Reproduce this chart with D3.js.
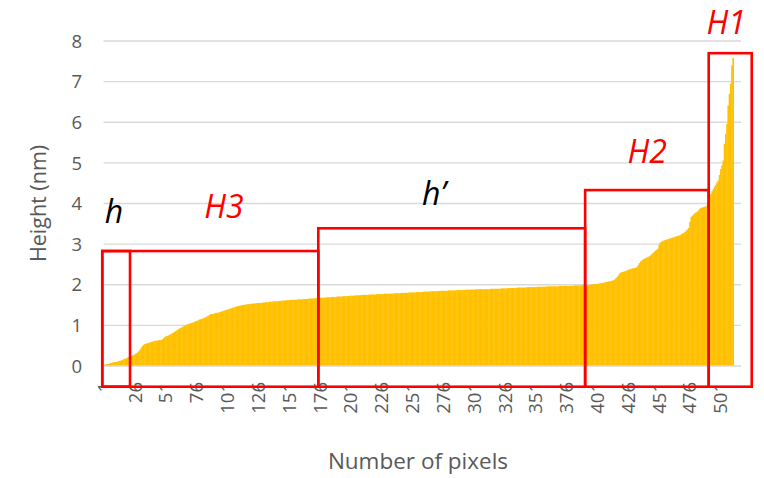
<!DOCTYPE html>
<html>
<head>
<meta charset="utf-8">
<script src="https://cdn.jsdelivr.net/npm/d3@7/dist/d3.min.js"></script>
<style>
  body { margin: 0; background: #fff; }
  text { font-family: "Open Sans", sans-serif; }
</style>
</head>
<body>
<svg width="764" height="478"></svg>
<script>
// sorted heights (nm), one per pixel
var heights = [
  0.02,0.04,0.05,0.05,0.06,0.07,0.08,0.09,0.09,0.10,
  0.10,0.11,0.12,0.13,0.14,0.15,0.17,0.18,0.19,0.21,
  0.22,0.23,0.25,0.26,0.27,0.29,0.31,0.33,0.36,0.40,
  0.45,0.49,0.52,0.54,0.55,0.56,0.57,0.58,0.59,0.60,
  0.61,0.62,0.62,0.63,0.63,0.64,0.64,0.65,0.68,0.71,
  0.73,0.74,0.75,0.77,0.78,0.80,0.82,0.84,0.86,0.88,
  0.90,0.92,0.94,0.95,0.97,0.99,1.00,1.02,1.03,1.04,
  1.05,1.06,1.07,1.08,1.10,1.11,1.12,1.14,1.15,1.16,
  1.17,1.18,1.20,1.21,1.23,1.25,1.27,1.28,1.28,1.29,
  1.30,1.31,1.31,1.32,1.33,1.34,1.35,1.36,1.37,1.38,
  1.39,1.40,1.41,1.42,1.43,1.44,1.45,1.46,1.47,1.48,
  1.48,1.49,1.50,1.50,1.51,1.51,1.52,1.52,1.53,1.53,
  1.53,1.54,1.54,1.54,1.55,1.55,1.55,1.55,1.56,1.56,
  1.56,1.57,1.57,1.57,1.58,1.58,1.58,1.59,1.59,1.59,
  1.59,1.60,1.60,1.60,1.61,1.61,1.61,1.61,1.62,1.62,
  1.62,1.62,1.63,1.63,1.63,1.63,1.63,1.64,1.64,1.64,
  1.64,1.64,1.65,1.65,1.65,1.65,1.66,1.66,1.66,1.66,
  1.66,1.67,1.67,1.67,1.67,1.68,1.68,1.68,1.68,1.68,
  1.69,1.69,1.69,1.69,1.70,1.70,1.70,1.70,1.70,1.71,
  1.71,1.71,1.71,1.71,1.72,1.72,1.72,1.72,1.72,1.73,
  1.73,1.73,1.73,1.73,1.74,1.74,1.74,1.74,1.74,1.75,
  1.75,1.75,1.75,1.75,1.75,1.76,1.76,1.76,1.76,1.76,
  1.76,1.77,1.77,1.77,1.77,1.77,1.77,1.78,1.78,1.78,
  1.78,1.78,1.78,1.78,1.78,1.79,1.79,1.79,1.79,1.79,
  1.79,1.80,1.80,1.80,1.80,1.80,1.80,1.81,1.81,1.81,
  1.81,1.81,1.81,1.82,1.82,1.82,1.82,1.82,1.82,1.83,
  1.83,1.83,1.83,1.83,1.83,1.84,1.84,1.84,1.84,1.84,
  1.84,1.84,1.85,1.85,1.85,1.85,1.85,1.85,1.85,1.86,
  1.86,1.86,1.86,1.86,1.86,1.86,1.87,1.87,1.87,1.87,
  1.87,1.87,1.87,1.87,1.88,1.88,1.88,1.88,1.88,1.88,
  1.88,1.88,1.89,1.89,1.89,1.89,1.89,1.89,1.89,1.89,
  1.89,1.89,1.89,1.90,1.90,1.90,1.90,1.90,1.90,1.90,
  1.90,1.90,1.91,1.91,1.91,1.91,1.91,1.91,1.92,1.92,
  1.92,1.92,1.92,1.92,1.92,1.93,1.93,1.93,1.93,1.93,
  1.93,1.93,1.93,1.94,1.94,1.94,1.94,1.94,1.94,1.94,
  1.94,1.95,1.95,1.95,1.95,1.95,1.95,1.95,1.95,1.96,
  1.96,1.96,1.96,1.96,1.96,1.96,1.96,1.96,1.96,1.97,
  1.97,1.97,1.97,1.97,1.97,1.97,1.97,1.97,1.97,1.97,
  1.97,1.98,1.98,1.98,1.98,1.98,1.98,1.98,1.99,1.99,
  1.99,1.99,1.99,2.00,2.00,2.00,2.01,2.01,2.02,2.02,
  2.02,2.03,2.03,2.04,2.04,2.05,2.06,2.07,2.07,2.08,
  2.08,2.09,2.10,2.11,2.13,2.16,2.19,2.23,2.28,2.30,
  2.31,2.32,2.33,2.34,2.35,2.37,2.38,2.39,2.40,2.41,
  2.41,2.42,2.43,2.48,2.53,2.57,2.60,2.62,2.64,2.65,
  2.67,2.68,2.70,2.72,2.75,2.78,2.81,2.84,2.86,2.89,
  2.98,3.04,3.06,3.08,3.09,3.10,3.11,3.12,3.13,3.14,
  3.15,3.16,3.17,3.18,3.19,3.20,3.21,3.22,3.24,3.26,
  3.27,3.30,3.33,3.36,3.40,3.55,3.67,3.70,3.73,3.76,
  3.78,3.80,3.83,3.87,3.89,3.90,3.91,3.92,3.93,3.96,
  4.05,4.14,4.23,4.30,4.36,4.41,4.46,4.52,4.57,4.70,
  4.85,4.94,5.06,5.47,5.71,5.96,6.41,6.70,6.95,7.40,7.58
];

var slotCount = 517;   // category slots on the x axis
var xTickLabels = ["1","26","51","76","101","126","151","176","201","226","251",
                   "276","301","326","351","376","401","426","451","476","501"];
var yTicks = [0, 1, 2, 3, 4, 5, 6, 7, 8];

// annotated ranges: slot edges (0 = left of pixel 1) and box top (nm)
var regionNames = ["h", "H3", "h\u2019", "H2", "H1"];
var regionFrom  = [-1, -1, 174.2, 390.6, 490.8];
var regionTo    = [21.5, 174.2, 390.6, 490.8, 525.7];
var regionTop   = [2.83, 2.83, 3.39, 4.33, 7.70];
var regionBottom = -0.51;
// label anchors (slot position, baseline height in nm)
var labelAt  = [8.5, 97.7, 268, 441, 505];
var labelY   = [3.52, 3.64, 3.96, 5.0, 8.17];
var labelRed = [false, true, false, true, true];

var svg = d3.select("svg");
var plotL = 103.5, plotR = 741, plotT = 41, plotB = 366;

var x = d3.scaleBand()
    .domain(d3.range(1, slotCount + 1))
    .range([plotL, plotR])
    .padding(0);
var xs = d3.scaleLinear().domain([0, slotCount]).range([plotL, plotR]);
var y = d3.scaleLinear().domain([0, 8]).range([plotB, plotT]);

var grey = "#595959";

// gridlines
svg.append("g")
  .selectAll("line")
  .data(yTicks.filter(function(d) { return d > 0; }))
  .enter().append("line")
    .attr("x1", plotL).attr("x2", plotR)
    .attr("y1", function(d) { return y(d); })
    .attr("y2", function(d) { return y(d); })
    .attr("stroke", "#d9d9d9")
    .attr("stroke-width", 1.3);

// bars
svg.append("g")
  .selectAll("rect")
  .data(heights)
  .enter().append("rect")
    .attr("x", function(d, i) { return x(i + 1); })
    .attr("width", x.bandwidth() + 0.4)
    .attr("y", function(d) { return y(d); })
    .attr("height", function(d) { return y(0) - y(d); })
    .attr("fill", "#ffc000");

// category axis line
svg.append("line")
    .attr("x1", plotL).attr("x2", plotR)
    .attr("y1", y(0)).attr("y2", y(0))
    .attr("stroke", "#d9d9d9")
    .attr("stroke-width", 1.3);

// y tick labels
svg.append("g")
  .selectAll("text")
  .data(yTicks)
  .enter().append("text")
    .attr("x", 82)
    .attr("y", function(d) { return y(d); })
    .attr("dy", "0.36em")
    .attr("text-anchor", "end")
    .attr("fill", grey)
    .style("font-size", "18.5px")
    .text(function(d) { return d; });

// x tick labels
svg.append("g")
  .selectAll("text")
  .data(xTickLabels)
  .enter().append("text")
    .attr("transform", function(d) {
      return "translate(" + (x(+d) + x.bandwidth() / 2) + ",382) rotate(-90)";
    })
    .attr("dy", "0.36em")
    .attr("text-anchor", "end")
    .attr("fill", grey)
    .style("font-size", "18.5px")
    .text(function(d) { return d; });

// axis titles
svg.append("text")
    .attr("transform", "translate(38," + (plotT + plotB) / 2 + ") rotate(-90)")
    .attr("dy", "0.36em")
    .attr("text-anchor", "middle")
    .attr("fill", grey)
    .style("font-size", "21.5px")
    .text("Height (nm)");

svg.append("text")
    .attr("x", 418)
    .attr("y", 469)
    .attr("text-anchor", "middle")
    .attr("fill", grey)
    .style("font-size", "22.5px")
    .text("Number of pixels");

// annotation boxes
svg.append("g")
  .selectAll("rect")
  .data(regionNames)
  .enter().append("rect")
    .attr("x", function(d, i) { return xs(regionFrom[i]); })
    .attr("width", function(d, i) { return xs(regionTo[i]) - xs(regionFrom[i]); })
    .attr("y", function(d, i) { return y(regionTop[i]); })
    .attr("height", function(d, i) { return y(regionBottom) - y(regionTop[i]); })
    .attr("fill", "none")
    .attr("stroke", "#ff0000")
    .attr("stroke-width", 2.6);

svg.append("g")
  .selectAll("text")
  .data(regionNames)
  .enter().append("text")
    .attr("x", function(d, i) { return xs(labelAt[i]); })
    .attr("y", function(d, i) { return y(labelY[i]); })
    .attr("text-anchor", "middle")
    .attr("fill", function(d, i) { return labelRed[i] ? "#ff0000" : "#000"; })
    .style("font-size", "32px")
    .style("font-style", "italic")
    .text(function(d) { return d; });
</script>
</body>
</html>
